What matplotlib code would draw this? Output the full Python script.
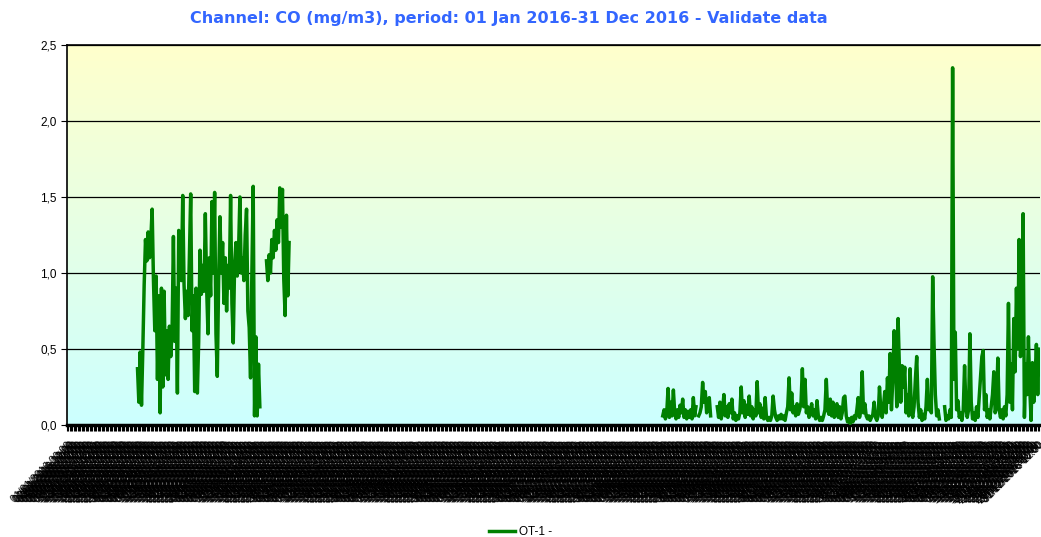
import numpy as np
import pandas as pd
import matplotlib
matplotlib.use("Agg")
import matplotlib.pyplot as plt
from matplotlib.colors import LinearSegmentedColormap

plt.rcParams['font.family'] = ['Liberation Sans', 'DejaVu Sans']

nan = np.nan

# CO (mg/m3), one reading every 12 hours; x in days since 01 Jan 2016
seg1_start = 26.5
seg1_co = [0.37, 0.15, 0.48, 0.13, 0.50, 0.92, 1.22, 1.08, 1.27, 1.10,
           1.22, 1.42, 0.95, 0.62, 0.98, 0.30, 0.85, 0.08, 0.90, 0.25,
           0.88, 0.33, 0.62, 0.30, 0.65, 0.45, 0.62, 1.24, 0.55, 0.90,
           0.21, 1.28, 1.18, 0.95, 1.51, 0.92, 0.70, 0.88, 0.72, 1.10,
           1.52, 0.62, 0.85, 0.22, 0.90, 0.21, 0.55, 1.15, 0.86, 1.05,
           0.88, 1.39, 0.90, 0.60, 1.10, 0.85, 1.47, 1.00, 1.53, 0.60,
           0.32, 0.95, 1.37, 1.00, 1.20, 0.80, 1.10, 0.75, 1.05, 0.90,
           1.51, 0.80, 0.54, 1.05, 1.20, 0.98, 1.15, 1.50, 1.00, 1.10,
           0.95, 1.25, 1.42, 0.75, 0.64, 0.31, 1.00, 1.57, 0.06, 0.58,
           0.06, 0.40, 0.12]

seg2_start = 75.0
seg2_co = [1.08, 0.95, 1.12, 1.00, 1.22, 1.10, 1.28, 1.15, 1.35, 1.20,
           1.56, 1.30, 1.55, 0.96, 0.72, 1.38, 0.85, 1.20]

seg3_start = 224.0
seg3_co = [0.06, 0.10, 0.04, 0.08, 0.24, 0.05, 0.15, 0.06, 0.23, 0.08,
           0.04, 0.10, 0.05, 0.13, 0.08, 0.17, 0.05, 0.10, 0.04, 0.09,
           0.05, 0.10, 0.04, 0.18, 0.06, 0.12, nan, 0.06, 0.08, 0.12,
           0.28, 0.15, 0.22, 0.08, 0.12, 0.18, 0.06, nan, nan, nan,
           nan, 0.12, 0.05, 0.15, 0.04, 0.10, 0.20, 0.06, 0.12, 0.05,
           0.14, 0.08, 0.17, 0.04, 0.08, 0.03, 0.06, 0.04, 0.08, 0.25,
           0.08, 0.16, 0.05, 0.13, 0.07, 0.19, 0.06, 0.12, 0.04, 0.10,
           0.06, 0.285, 0.08, 0.14, 0.05, 0.11, 0.04, 0.18, 0.05, 0.03,
           0.05, 0.03, 0.06, 0.19, 0.10, 0.05, 0.03, 0.06, 0.04, 0.07,
           0.04, 0.06, 0.03, 0.08, 0.12, 0.31, 0.10, 0.21, 0.08, 0.12,
           0.06, 0.14, 0.07, 0.10, 0.15, 0.37, 0.12, 0.30, 0.08, 0.12,
           0.05, 0.09, 0.14, 0.06, 0.10, 0.04, 0.16, 0.06, 0.03, 0.05,
           0.03, 0.06, 0.10, 0.30, 0.10, 0.07, 0.17, 0.06, 0.15, 0.05,
           0.10, 0.14, 0.05, 0.12, 0.04, 0.08, 0.18, 0.19, 0.06, 0.02,
           0.04, 0.01, 0.05, 0.02, 0.06, 0.04, 0.10, 0.18, 0.05, 0.10,
           0.35, 0.08, 0.14, 0.06, 0.04, 0.06, 0.03, 0.05, 0.07, 0.15,
           0.05, 0.03, 0.06, 0.25, 0.10, 0.05, 0.12, 0.22, 0.08, 0.31,
           0.15, 0.47, 0.10, 0.30, 0.62, 0.44, 0.12, 0.70, 0.37, 0.15,
           0.39, 0.25, 0.38, 0.08, 0.20, 0.06, 0.37, 0.10, 0.05, 0.12,
           0.30, 0.45, 0.15, 0.05, 0.10, 0.03, 0.07, 0.04, 0.12, 0.30,
           0.10, 0.15, 0.08, 0.975, 0.54, 0.20, 0.06, 0.10, 0.04, nan,
           nan, nan, 0.12, 0.03, 0.06, 0.04, 0.10, 0.05, 2.35, 0.30,
           0.61, 0.10, 0.16, 0.05, 0.08, 0.03, 0.10, 0.39, 0.12, 0.05,
           0.10, 0.60, 0.15, 0.04, 0.08, 0.03, 0.12, 0.05, 0.18, 0.30,
           0.45, 0.49, 0.10, 0.20, 0.05, 0.10, 0.04, 0.12, 0.20, 0.35,
           0.08, 0.12, 0.44, 0.10, 0.05, 0.10, 0.04, 0.12, 0.06, 0.20,
           0.80, 0.15, 0.40, 0.10, 0.70, 0.35, 0.90, 0.50, 1.22, 0.45,
           0.60, 1.39, 0.05, 0.40, 0.20, 0.58, 0.25, 0.03, 0.41, 0.15,
           0.30, 0.53, 0.20, 0.50, 0.45]

segments = [(seg1_start, seg1_co), (seg2_start, seg2_co), (seg3_start, seg3_co)]

stamps = pd.date_range('2016-01-01', '2016-12-31 12:00', freq='12h')
tick_labels = [d.strftime('%d/%m/%Y %H:%M') for d in stamps]
y_ticks = [0.0, 0.5, 1.0, 1.5, 2.0, 2.5]

fig = plt.figure(figsize=(10.41, 5.37), dpi=100)
ax = fig.add_axes([0.0644, 0.2086, 0.935, 0.7076])

# background gradient yellow -> cyan
cmap = LinearSegmentedColormap.from_list('bg', ['#CCFFFF', '#FFFFCC'])
grad = np.linspace(0, 1, 256).reshape(-1, 1)
ax.imshow(grad, cmap=cmap, aspect='auto', origin='lower',
          extent=[0, 1, 0, 1], transform=ax.transAxes, zorder=0)

for i, (start, vals) in enumerate(segments):
    v = np.array(vals, dtype=float)
    x = start + 0.5 * np.arange(len(v))
    ax.plot(x, v, color='green', lw=2.5, solid_joinstyle='round', zorder=3,
            label='OT-1 -' if i == 0 else None)

ax.set_xlim(0, 366)
ax.set_ylim(0, 2.5)

ax.set_yticks(y_ticks)
ax.set_yticklabels([f'{t:.1f}'.replace('.', ',') for t in y_ticks], fontsize=8.5)
for t in y_ticks[1:]:
    ax.axhline(t, color='black', lw=0.9, zorder=1)

ax.set_xticks(0.5 * np.arange(len(stamps)))
ax.set_xticklabels(tick_labels, rotation=45, ha='right', rotation_mode='anchor',
                   fontsize=7.5)
ax.tick_params(axis='x', length=4, width=0.8, pad=7)
ax.tick_params(axis='y', length=4, width=0.8)

ax.spines['right'].set_visible(False)
ax.spines['top'].set_linewidth(1.2)
ax.spines['left'].set_linewidth(1.2)
ax.spines['bottom'].set_linewidth(2.5)

fig.text(0.4885, 0.965, 'Channel: CO (mg/m3), period: 01 Jan 2016-31 Dec 2016 - Validate data',
         ha='center', va='center', fontsize=11.5, fontweight='bold',
         color='#3366FF', family='DejaVu Sans')

fig.legend(loc='lower center', bbox_to_anchor=(0.5, -0.022), frameon=False,
           fontsize=8.5, handlelength=2.2, handletextpad=0.3)

fig.savefig('out.png', dpi=100)
